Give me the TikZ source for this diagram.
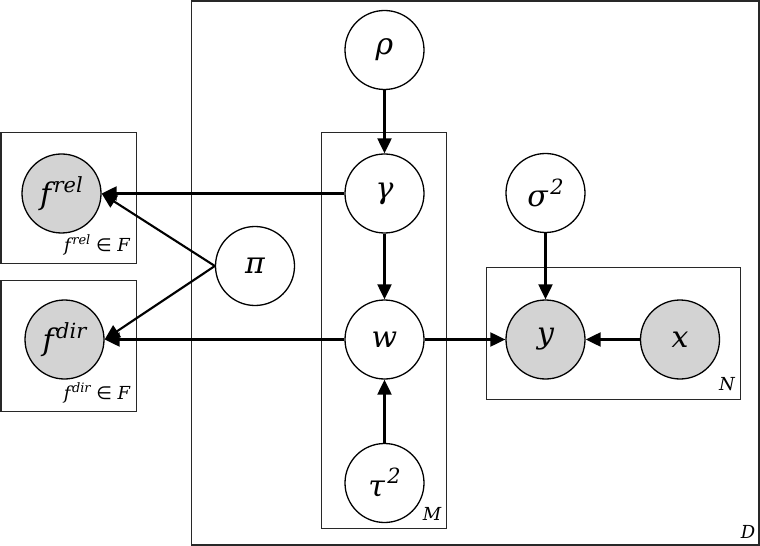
\documentclass[tikz,border=0pt]{standalone}
\usepackage{fontspec}
\newfontfamily\varfont{DejaVu Serif}
\newfontfamily\symfont{DejaVu Sans}
\usetikzlibrary{arrows.meta}
\definecolor{obsfill}{RGB}{211,211,211}
\definecolor{platecol}{RGB}{40,40,40}
\newcommand{\supx}[1]{\kern2.5pt\raisebox{0.42em}{\fontsize{21}{24}\selectfont #1}}
\newcommand{\supsmall}[1]{\kern1.5pt\raisebox{0.42em}{\fontsize{13}{15}\selectfont #1}}
\tikzset{
  var/.style={circle, draw=black, line width=1.3bp, minimum size=79bp, inner sep=0pt, fill=white, font=\fontsize{30}{36}\selectfont\varfont\itshape},
  obs/.style={var, fill=obsfill},
  plate/.style={draw=platecol, line width=1.5bp},
  platelabel/.style={font=\fontsize{18}{22}\selectfont\varfont\itshape, inner sep=0pt},
  edge/.style={draw=black, line width=2.1bp, -{Triangle[length=15bp,width=14bp]}}
}
\begin{document}
\begin{tikzpicture}[x=1bp,y=-1bp]
\useasboundingbox (0,0) rectangle (760,546);
% plates
\draw[plate] (191.5,0.9) rectangle (759.1,545);
\draw[plate] (321.5,132.5) rectangle (446.5,528.5);
\draw[plate] (486.5,267.5) rectangle (740.5,399.5);
\draw[plate] (1,132.5) rectangle (136.5,263.5);
\draw[plate] (1,280.5) rectangle (136.5,411.5);
% plate labels
\node[platelabel] (labD) at (748,532) {D};
\node[platelabel] (labM) at (432,514) {M};
\node[platelabel] (labN) at (727,384) {N};
\node[platelabel] (labrel) at (97,245) {f\supsmall{rel} {\upshape\symfont ∈} F};
\node[platelabel] (labdir) at (97,393) {f\supsmall{dir} {\upshape\symfont ∈} F};
% nodes
\node[var] (rho) at (384.5,50) {ρ};
\node[var] (gamma) at (384.5,193.5) {γ};
\node[var] (w) at (384.5,339.5) {w};
\node[var] (tau) at (384.5,483) {τ\supx{2}};
\node[var] (pi) at (255,266) {π};
\node[var] (sigma) at (545.5,193) {σ\supx{2}};
\node[obs] (y) at (545.5,339.5) {y};
\node[obs] (x) at (680,339.5) {x};
\node[obs] (frel) at (61.5,193.5) {f\supx{rel}};
\node[obs] (fdir) at (64.5,339.5) {f\supx{dir}};
% edges
\draw[edge] (rho) -- (gamma);
\draw[edge] (gamma) -- (w);
\draw[edge] (tau) -- (w);
\draw[edge] (sigma) -- (y);
\draw[edge] (x) -- (y);
\draw[edge] (w) -- (y);
\draw[edge] (gamma.west) -- (frel.east);
\draw[edge] (w.west) -- (fdir.east);
\draw[edge] (pi.west) -- (frel.east);
\draw[edge] (pi.west) -- (fdir.east);
\end{tikzpicture}
\end{document}
